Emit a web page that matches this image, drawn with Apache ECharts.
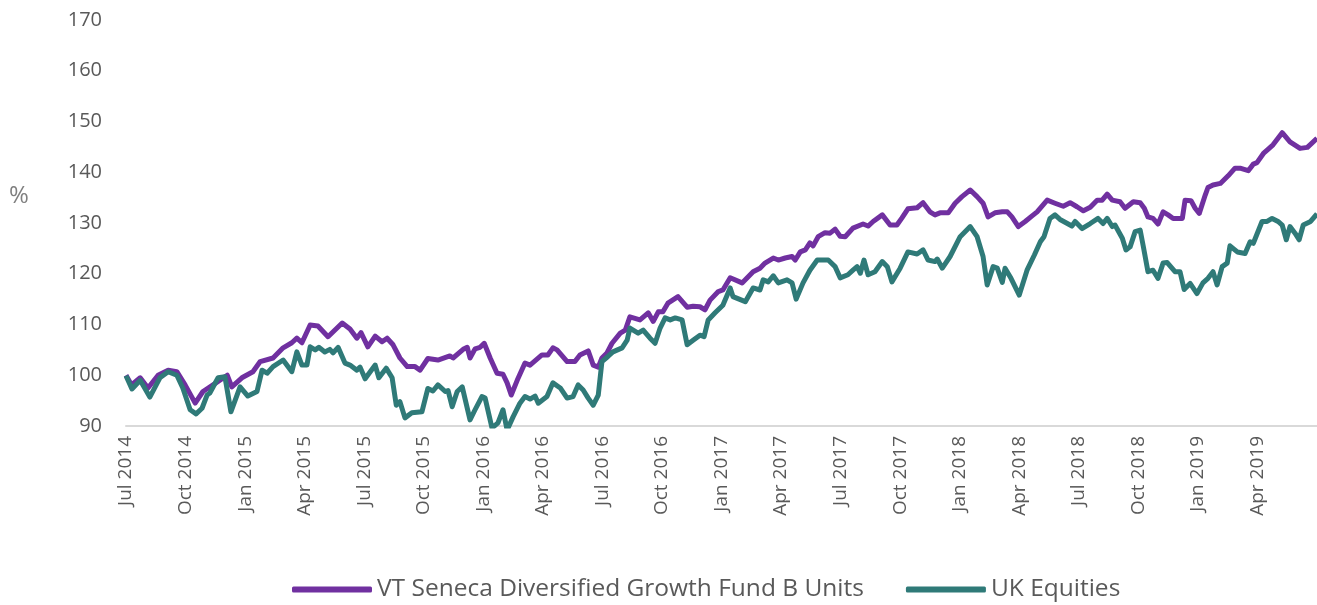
<!DOCTYPE html>
<html>
<head>
    <meta charset="utf-8">
    <title>VT Seneca Diversified Growth Fund vs UK Equities</title>
    <script src="https://cdn.jsdelivr.net/npm/echarts@6.0.0/dist/echarts.min.js"></script>
    <style>
        html, body { margin: 0; padding: 0; background: #fff; }
        #chart { width: 1317px; height: 605px; }
    </style>
</head>
<body>
<div id="chart"></div>
<script>
    // x positions are weeks since early July 2014, ticks every 13 weeks (one quarter)
    const tickLabels = ['Jul 2014', 'Oct 2014', 'Jan 2015', 'Apr 2015', 'Jul 2015', 'Oct 2015',
        'Jan 2016', 'Apr 2016', 'Jul 2016', 'Oct 2016', 'Jan 2017', 'Apr 2017', 'Jul 2017',
        'Oct 2017', 'Jan 2018', 'Apr 2018', 'Jul 2018', 'Oct 2018', 'Jan 2019', 'Apr 2019'];

    const fundName = 'VT Seneca Diversified Growth Fund B Units';
    const equityName = 'UK Equities';

    const fundWeeks = [0,1.2,3.1,4.8,7.0,9.2,11.1,12.9,15.1,16.8,
        19.0,22.1,23.1,25.3,27.7,29.3,32.1,34.3,36.2,37.3,
        38.4,40.2,41.9,44.1,47.2,48.9,50.4,51.3,52.8,54.4,
        55.9,57.0,58.3,59.8,61.4,63.1,64.2,65.9,68.1,70.7,
        71.4,73.6,74.5,75.1,76.2,77.3,78.2,79.5,81.0,82.3,
        83.2,84.1,85.4,87.1,88.2,90.8,92.1,93.2,94.1,96.3,
        98.0,99.1,100.9,102.0,103.1,103.9,105.0,106.1,107.9,109.0,
        110.0,112.2,114.0,115.1,116.2,117.2,118.3,120.5,122.5,123.8,
        125.3,126.4,127.5,129.3,130.3,131.9,134.5,136.9,138.4,139.5,
        141.3,142.4,143.9,145.4,146.1,147.2,148.3,149.3,150.0,151.1,
        152.6,153.7,154.8,155.9,157.0,158.7,160.9,162.0,163.1,165.1,
        166.8,168.3,169.4,170.7,172.7,174.0,175.5,176.6,177.7,179.5,
        181.0,182.5,184.3,185.8,187.1,188.2,189.7,191.3,192.4,193.4,
        194.8,196.3,197.8,198.9,201.1,202.8,204.6,206.1,207.6,209.0,
        210.5,212.0,213.1,214.2,215.3,217.0,218.1,219.9,221.4,222.3,
        223.1,224.2,225.3,226.4,227.5,228.6,230.6,231.2,232.5,233.4,
        234.3,235.6,236.2,237.3,238.9,240.6,242.1,243.2,245.0,246.1,
        246.9,248.3,249.3,250.4,252.4,254.1,256.3,257.9,260];
    const fundValues = [100,98.1,99.5,97.5,100,101,100.7,98.1,94.5,96.8,
        98.1,100,97.7,99.5,100.7,102.7,103.4,105.4,106.4,107.3,
        106.4,109.9,109.7,107.6,110.3,109.1,107.3,108.4,105.6,107.7,
        106.6,107.3,106,103.4,101.7,101.7,101,103.3,103,103.8,
        103.4,105.1,105.5,103.4,105.2,105.5,106.3,103.4,100.4,100.2,
        98.5,96.1,99,102.4,102,104,104,105.4,105,102.7,
        102.7,104,104.8,102,101.6,103.4,104.4,106.3,108.3,108.9,
        111.5,110.9,112.3,110.6,112.5,112.5,114.2,115.5,113.4,113.6,
        113.5,112.9,114.8,116.5,116.8,119.2,118.2,120.4,121.1,122.1,
        123.1,122.7,123.1,123.4,122.7,124.3,124.7,126.1,125.5,127.3,
        128.1,128,128.8,127.4,127.3,129,129.8,129.4,130.3,131.6,
        129.6,129.6,131,132.8,133,134,132.2,131.6,132,132,
        133.9,135.2,136.5,135.2,133.9,131.2,132,132.2,132.2,131.2,
        129.3,130.3,131.4,132.2,134.5,133.9,133.3,134,133.2,132.4,
        133.1,134.5,134.5,135.7,134.5,134.2,132.9,134.2,134,132.9,
        131.2,130.9,129.8,132.2,131.6,130.9,130.9,134.5,134.4,132.9,
        131.9,135.5,137,137.5,137.8,139.3,140.8,140.8,140.3,141.6,
        141.9,143.7,144.5,145.4,147.8,146,144.7,144.9,146.7];

    const equityWeeks = [0,1.3,3.1,5.2,7.4,9.2,11.1,12.4,14.0,15.3,
        16.6,17.7,18.3,20.1,21.6,22.9,24.9,26.6,28.6,29.7,
        30.8,32.1,34.3,36.2,37.3,38.4,39.5,40.2,41.3,42.1,
        43.4,44.5,45.2,46.3,47.8,48.9,50.4,51.1,52.2,54.4,
        55.2,56.8,58.1,59.0,59.8,60.9,62.4,64.6,65.9,67.0,
        68.1,69.7,70.3,71.2,72.3,73.4,75.1,76.2,77.7,78.4,
        79.9,81.2,82.3,83.2,84.5,86.0,87.1,88.2,89.3,90.0,
        91.9,93.2,94.8,96.3,97.6,98.7,99.8,100.9,102.0,103.1,
        103.9,105.2,106.3,108.3,109.4,110.0,111.8,112.9,114.4,115.5,
        116.6,117.7,118.8,119.9,121.4,122.5,123.8,125.3,126.2,127.1,
        128.6,130.3,131.9,132.5,135.2,136.9,138.4,139.1,140.2,141.3,
        142.4,144.3,145.4,146.3,147.8,149.3,150.9,153.3,154.8,155.9,
        157.6,158.7,159.6,160.3,161.1,162.0,163.5,165.1,166.2,167.2,
        169.0,170.7,172.7,174.0,175.1,176.6,177.1,178.2,179.9,182.1,
        184.3,185.8,187.1,188.0,189.3,190.2,191.3,191.9,193.2,195.0,
        196.7,198.3,199.6,200.4,201.7,202.8,203.9,206.5,207.2,208.7,
        210.5,212.2,213.3,214.2,215.3,215.9,217.5,218.3,219.2,220.3,
        221.4,222.1,223.1,224.2,225.3,226.4,227.3,229.0,230.1,231.0,
        232.3,233.8,235.1,236.2,237.3,238.2,239.3,240.4,241.0,242.6,
        244.3,245.4,246.1,248.0,249.1,250.2,251.5,252.4,253.3,254.1,
        255.2,256.1,257.0,258.6,260];
    const equityValues = [99.9,97.3,99,95.7,99.5,100.7,100,97.5,93.2,92.4,
        93.5,96.1,96.5,99.5,99.7,92.8,97.7,95.9,96.8,101,
        100.4,101.7,103,100.7,104.6,102,102,105.6,105,105.5,
        104.6,105.1,104.4,105.5,102.4,102,101,101.6,99.3,102,
        99.5,101.4,99.5,94.1,94.8,91.6,92.6,92.8,97.4,96.9,
        98.1,96.8,97,93.8,96.8,97.7,91.2,93.2,95.8,95.5,
        89.6,90.6,93.2,89.2,91.8,94.5,95.8,95.3,95.9,94.5,
        95.8,98.5,97.5,95.5,95.8,98.1,97.1,95.5,94.1,96.1,
        102.7,103.7,104.6,105.4,106.9,109.3,108.3,108.9,107.3,106.3,
        109.3,111.3,110.9,111.3,110.9,106,106.9,107.9,107.6,110.9,
        112.3,113.8,117.2,115.5,114.5,117.2,116.8,118.8,118.4,119.6,
        118.2,118.8,118.2,115,118.2,120.7,122.7,122.7,121.4,119.2,
        119.8,120.7,121.4,120.1,122.7,119.8,120.4,122.4,121.4,118.4,
        121.1,124.3,123.9,124.7,122.7,122.4,122.9,121.1,123.4,127.3,
        129.3,127.3,123.4,117.8,121.4,121.1,118.3,121.1,119.1,115.8,
        120.7,123.7,126.3,127.3,130.9,131.6,130.7,129.4,130.3,128.9,
        129.9,130.9,129.9,130.9,129.3,129.6,127,124.7,125.3,128.3,
        128.6,125.3,120.4,120.7,119.1,122.1,122.2,120.4,120.4,116.9,
        118.1,116.1,118.2,119.1,120.4,117.8,121.4,122.1,125.5,124.3,
        124,126.3,126,130.3,130.3,130.9,130.3,129.6,126.7,129.3,
        128,126.7,129.6,130.3,131.8];

    const pair = (xs, ys) => xs.map((x, i) => [x, ys[i]]);

    const textGrey = '#595959';
    const font = '"Open Sans", Lato, sans-serif';

    const chart = echarts.init(document.getElementById('chart'));

    chart.setOption({
        animation: false,
        textStyle: { fontFamily: font },
        grid: { left: 126, right: 0, top: 20, bottom: 179, containLabel: false },
        graphic: [{
            type: 'text',
            left: 9,
            top: 184,
            style: { text: '%', fill: '#7f7f7f', font: '24px ' + font }
        }],
        legend: {
            bottom: 3,
            left: 292,
            padding: 0,
            icon: 'roundRect',
            itemWidth: 80,
            itemHeight: 6,
            itemGap: 42,
            textStyle: { color: textGrey, fontSize: 24.5, fontFamily: font },
            data: [fundName, equityName]
        },
        xAxis: {
            type: 'value',
            min: 0,
            max: 260,
            interval: 13,
            axisLine: { show: true, lineStyle: { color: '#d9d9d9', width: 2 } },
            axisTick: { show: false },
            splitLine: { show: false },
            axisLabel: {
                rotate: 90,
                color: textGrey,
                fontSize: 19,
                margin: 10,
                formatter: v => tickLabels[Math.round(v / 13)] || ''
            }
        },
        yAxis: {
            type: 'value',
            min: 90,
            max: 170,
            interval: 10,
            axisLine: { show: false },
            axisTick: { show: false },
            splitLine: { show: false },
            axisLabel: { color: textGrey, fontSize: 20, margin: 24 }
        },
        series: [
            {
                name: fundName,
                type: 'line',
                data: pair(fundWeeks, fundValues),
                showSymbol: false,
                clip: true,
                lineStyle: { color: '#7030a0', width: 5, join: 'round' },
                itemStyle: { color: '#7030a0' }
            },
            {
                name: equityName,
                type: 'line',
                data: pair(equityWeeks, equityValues),
                showSymbol: false,
                clip: true,
                lineStyle: { color: '#2f7a78', width: 5, join: 'round' },
                itemStyle: { color: '#2f7a78' }
            }
        ]
    });
</script>
</body>
</html>
